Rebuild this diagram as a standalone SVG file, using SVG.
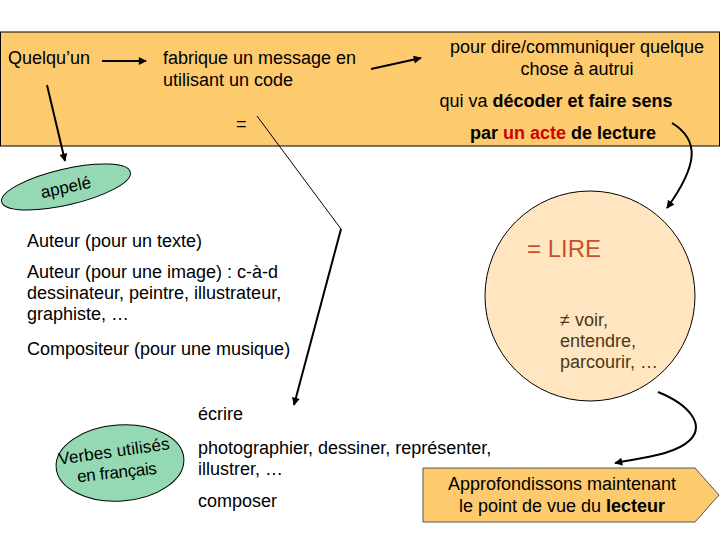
<svg xmlns="http://www.w3.org/2000/svg" width="720" height="540" viewBox="0 0 720 540">
<defs>
<style>
text{font-family:"Liberation Sans",Arial,sans-serif;font-size:18px;fill:#000}
.b{font-weight:bold}
.c{text-anchor:middle}
.conn{fill:none;stroke:#000;stroke-width:2}
.thin{fill:none;stroke:#000;stroke-width:1}
</style>
<marker id="ah" viewBox="0 0 10 10" refX="9" refY="5" markerWidth="11" markerHeight="8" orient="auto" markerUnits="userSpaceOnUse">
<path d="M0,0 L10,5 L0,10 z" fill="#000"/>
</marker>
</defs>
<rect width="720" height="540" fill="#fff"/>
<g id="bandeau">
<rect x="0.5" y="32" width="719" height="114" fill="#FDCB6E" stroke="#000" stroke-width="1"/>
<text x="8" y="64">Quelqu’un</text>
<text x="163" y="64">fabrique un message en</text>
<text x="163" y="86">utilisant un code</text>
<text x="577" y="53" class="c">pour dire/communiquer quelque</text>
<text x="577" y="75" class="c">chose à autrui</text>
<text x="556" y="107" class="c">qui va <tspan class="b">décoder et faire sens</tspan></text>
<text x="563" y="139" class="c b">par <tspan fill="#D00000">un acte</tspan> de lecture</text>
<text x="236" y="130">=</text>
</g>
<g id="appele">
<ellipse cx="66" cy="187" rx="66" ry="18" transform="rotate(-13 66 187)" fill="#94D9B3" stroke="#000" stroke-width="1"/>
<text x="66" y="193" class="c" style="font-size:17px" transform="rotate(-12 66 188)">appelé</text>
</g>
<g id="auteurs">
<text x="27" y="247">Auteur (pour un texte)</text>
<text x="27" y="278">Auteur (pour une image) : c-à-d</text>
<text x="27" y="299">dessinateur, peintre, illustrateur,</text>
<text x="27" y="320">graphiste, …</text>
<text x="27" y="355">Compositeur (pour une musique)</text>
</g>
<g id="lire">
<circle cx="590" cy="296" r="105" fill="#FFE6C1" stroke="#000" stroke-width="1"/>
<text x="527" y="257" style="font-size:24px;fill:#C8502A">= LIRE</text>
<text x="560" y="326" style="fill:#4A3818">≠ voir,</text>
<text x="560" y="347" style="fill:#4A3818">entendre,</text>
<text x="560" y="368" style="fill:#4A3818">parcourir, …</text>
</g>
<g id="verbes">
<ellipse cx="120" cy="463" rx="64" ry="38" transform="rotate(-4 120 463)" fill="#94D9B3" stroke="#000" stroke-width="1"/>
<text x="114" y="457" class="c" style="font-size:17px" textLength="112" transform="rotate(-8 114 452)">Verbes utilisés</text>
<text x="117" y="478" class="c" style="font-size:17px" textLength="80" transform="rotate(-6 117 473)">en français</text>
</g>
<g id="actions">
<text x="198" y="420">écrire</text>
<text x="198" y="454">photographier, dessiner, représenter,</text>
<text x="198" y="475">illustrer, …</text>
<text x="198" y="507">composer</text>
</g>
<g id="approfondir">
<path d="M423,468 L695,468 L719,495 L695,522 L423,522 Z" fill="#FDCB6E" stroke="#555" stroke-width="1"/>
<text x="562" y="490" class="c">Approfondissons maintenant</text>
<text x="562" y="512" class="c">le point de vue du <tspan class="b">lecteur</tspan></text>
</g>
<g id="connecteurs">
<line x1="102" y1="61" x2="146" y2="61" class="conn" marker-end="url(#ah)"/>
<line x1="371" y1="69" x2="421" y2="58" class="conn" marker-end="url(#ah)"/>
<line x1="47" y1="85" x2="65" y2="161" class="conn" marker-end="url(#ah)"/>
<line x1="257" y1="116" x2="341" y2="229" class="thin"/>
<line x1="341" y1="229" x2="294" y2="405" class="conn" marker-end="url(#ah)"/>
<path d="M672,123 C700,140 698,165 667,208" class="conn" marker-end="url(#ah)"/>
<path d="M658,392 C690,405 705,425 690,440 C675,455 640,458 615,463" class="conn" marker-end="url(#ah)"/>
</g>
</svg>
